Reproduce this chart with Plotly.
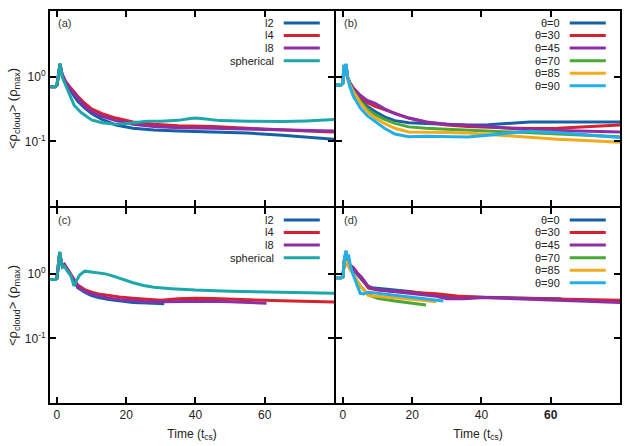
import plotly.graph_objects as go

# ---------------- data ----------------
# Panel (a): shapes
a_l2_t = [-2, -0.5, 0, 0.4, 0.9, 1.5, 2.5, 4, 6, 8, 10, 13, 17, 22, 28, 35, 45, 55, 65, 72, 80]
a_l2_v = [0.70, 0.70, 0.74, 1.1, 1.58, 1.05, 0.8, 0.6, 0.42, 0.33, 0.27, 0.22, 0.18, 0.16, 0.15, 0.145, 0.14, 0.135, 0.125, 0.118, 0.108]
a_l4_t = [-2, -0.5, 0, 0.4, 0.9, 1.5, 2.5, 4, 6, 8, 10, 13, 17, 22, 28, 35, 45, 55, 65, 72, 80]
a_l4_v = [0.70, 0.70, 0.74, 1.1, 1.55, 1.1, 0.85, 0.67, 0.5, 0.39, 0.32, 0.27, 0.23, 0.2, 0.185, 0.175, 0.17, 0.16, 0.15, 0.145, 0.14]
a_l8_t = [-2, -0.5, 0, 0.4, 0.9, 1.5, 2.5, 4, 6, 8, 10, 13, 17, 22, 28, 35, 45, 55, 65, 72, 80]
a_l8_v = [0.70, 0.70, 0.74, 1.1, 1.55, 1.08, 0.83, 0.63, 0.47, 0.35, 0.29, 0.245, 0.21, 0.185, 0.17, 0.163, 0.16, 0.155, 0.15, 0.148, 0.145]
a_sp_t = [-2, -0.5, 0, 0.4, 0.9, 1.5, 2.5, 4, 5, 7, 10, 13, 17, 20, 23, 26, 30, 35, 38, 40, 43, 47, 55, 65, 72, 80]
a_sp_v = [0.70, 0.70, 0.74, 1.1, 1.62, 1.0, 0.75, 0.47, 0.36, 0.28, 0.215, 0.195, 0.185, 0.19, 0.2, 0.205, 0.205, 0.212, 0.225, 0.23, 0.222, 0.21, 0.205, 0.203, 0.208, 0.218]

# Panel (b): angles
b_t = [-2, -0.5, 0, 0.3, 0.6, 0.9, 1.3, 2, 3, 5, 7, 9.3, 12, 15, 19, 24, 30, 36, 42, 48, 54, 62, 70, 80]
b_0_v = [0.75, 0.75, 0.8, 1.5, 1.1, 1.55, 1.0, 0.78, 0.6, 0.45, 0.35, 0.29, 0.24, 0.21, 0.195, 0.19, 0.185, 0.18, 0.182, 0.19, 0.2, 0.2, 0.2, 0.2]
b_30_v = [0.75, 0.75, 0.8, 1.5, 1.1, 1.55, 1.0, 0.8, 0.65, 0.5, 0.4, 0.35, 0.31, 0.27, 0.23, 0.2, 0.18, 0.17, 0.165, 0.16, 0.158, 0.16, 0.168, 0.18]
b_45_v = [0.75, 0.75, 0.8, 1.5, 1.1, 1.55, 1.0, 0.82, 0.67, 0.52, 0.43, 0.39, 0.32, 0.27, 0.23, 0.2, 0.185, 0.178, 0.17, 0.16, 0.152, 0.148, 0.145, 0.14]
b_70_v = [0.75, 0.75, 0.8, 1.5, 1.1, 1.55, 1.0, 0.77, 0.6, 0.42, 0.32, 0.26, 0.22, 0.19, 0.168, 0.16, 0.155, 0.15, 0.145, 0.14, 0.135, 0.13, 0.125, 0.118]
b_85_v = [0.75, 0.75, 0.8, 1.5, 1.1, 1.55, 1.0, 0.75, 0.58, 0.4, 0.29, 0.23, 0.19, 0.16, 0.14, 0.14, 0.137, 0.135, 0.128, 0.12, 0.115, 0.108, 0.103, 0.097]
b_90_v = [0.75, 0.75, 0.8, 1.55, 1.1, 1.6, 1.0, 0.7, 0.5, 0.33, 0.25, 0.205, 0.16, 0.13, 0.118, 0.12, 0.118, 0.117, 0.125, 0.135, 0.144, 0.138, 0.128, 0.115]

# Panel (c): shapes
c_l2_t = [-2, -0.5, 0, 0.4, 0.8, 1.2, 1.6, 2.2, 3, 4, 5, 6, 8, 10, 12, 15, 18, 22, 26, 31]
c_l2_v = [0.82, 0.82, 0.85, 1.5, 2.15, 1.6, 1.3, 1.35, 1.15, 0.98, 0.78, 0.61, 0.52, 0.46, 0.43, 0.4, 0.38, 0.36, 0.355, 0.345]
c_l4_t = [-2, -0.5, 0, 0.4, 0.8, 1.2, 1.6, 2.2, 3, 4, 5, 6, 8, 10, 12, 15, 18, 22, 26, 30, 35, 40, 45, 50, 55, 60, 65, 70, 75, 80]
c_l4_v = [0.82, 0.82, 0.85, 1.5, 2.1, 1.6, 1.3, 1.4, 1.2, 1.0, 0.82, 0.67, 0.57, 0.52, 0.49, 0.46, 0.44, 0.42, 0.4, 0.39, 0.41, 0.42, 0.415, 0.41, 0.4, 0.39, 0.385, 0.375, 0.37, 0.365]
c_l8_t = [-2, -0.5, 0, 0.4, 0.8, 1.2, 1.6, 2.2, 3, 4, 5, 6, 8, 10, 12, 15, 18, 22, 26, 30, 35, 40, 45, 50, 55, 60.5]
c_l8_v = [0.82, 0.82, 0.85, 1.5, 2.1, 1.6, 1.3, 1.38, 1.18, 0.99, 0.8, 0.64, 0.54, 0.49, 0.46, 0.42, 0.4, 0.38, 0.37, 0.37, 0.375, 0.38, 0.375, 0.37, 0.36, 0.35]
c_sp_t = [-2, -0.5, 0, 0.4, 0.8, 1.2, 1.6, 2.2, 3, 4, 4.9, 5.5, 6.5, 8, 10, 12, 14, 16, 19, 22, 25, 28, 33, 40, 50, 60, 70, 80]
c_sp_v = [0.82, 0.82, 0.85, 1.5, 2.2, 1.6, 1.25, 1.3, 1.1, 0.95, 0.65, 0.75, 0.95, 1.1, 1.07, 1.05, 1.0, 0.93, 0.82, 0.73, 0.66, 0.62, 0.59, 0.56, 0.54, 0.53, 0.515, 0.5]

# Panel (d): angles
d_0_t = [-2, -0.5, 0, 0.4, 0.9, 1.3, 2, 3, 4, 5.5, 7, 8.4, 12, 17, 20, 25, 30, 36, 42, 50, 57, 63]
d_0_v = [0.87, 0.87, 0.9, 1.6, 2.2, 1.5, 1.3, 1.2, 1.0, 0.8, 0.65, 0.61, 0.58, 0.555, 0.53, 0.48, 0.45, 0.44, 0.43, 0.42, 0.415, 0.41]
d_30_t = [-2, -0.5, 0, 0.4, 0.9, 1.3, 2, 3, 4, 5.5, 7.4, 10, 14, 17, 22, 27, 33, 41, 50, 61, 70, 80]
d_30_v = [0.87, 0.87, 0.9, 1.6, 2.1, 1.5, 1.35, 1.25, 1.05, 0.85, 0.6, 0.56, 0.54, 0.53, 0.51, 0.49, 0.455, 0.43, 0.42, 0.41, 0.4, 0.39]
d_45_t = [-2, -0.5, 0, 0.4, 0.9, 1.3, 2, 2.6, 4, 5.5, 7.4, 10, 14, 17, 22, 27, 30, 35, 41, 50, 61, 70, 80]
d_45_v = [0.87, 0.87, 0.9, 1.6, 2.1, 1.5, 1.35, 1.3, 1.05, 0.87, 0.63, 0.57, 0.54, 0.52, 0.49, 0.45, 0.41, 0.41, 0.43, 0.41, 0.39, 0.375, 0.36]
d_70_t = [-2, -0.5, 0, 0.4, 0.9, 1.3, 2, 3, 3.6, 5, 7.4, 10, 15, 20, 24]
d_70_v = [0.87, 0.87, 0.9, 1.6, 2.1, 1.4, 1.2, 1.0, 0.85, 0.65, 0.47, 0.42, 0.38, 0.35, 0.33]
d_85_t = [-2, -0.5, 0, 0.4, 0.9, 1.3, 2, 3, 4, 5.5, 7.4, 10, 17, 22, 27]
d_85_v = [0.87, 0.87, 0.9, 1.6, 2.1, 1.4, 1.2, 1.0, 0.8, 0.6, 0.46, 0.45, 0.42, 0.395, 0.37]
d_90_t = [-2, -0.5, 0, 0.4, 0.9, 1.2, 1.6, 2.2, 3, 4, 5, 6, 7.4, 10, 17, 22, 27, 29]
d_90_v = [0.87, 0.87, 0.9, 1.7, 2.3, 1.6, 2.0, 1.3, 0.95, 0.68, 0.5, 0.49, 0.52, 0.5, 0.45, 0.42, 0.39, 0.38]

shape_names = ["l2", "l4", "l8", "spherical"]
angle_names = ["θ=0", "θ=30", "θ=45", "θ=70", "θ=85", "θ=90"]
shape_colors = ["#1661a6", "#d42230", "#8e2ea6", "#1ca7ab"]
angle_colors = ["#1661a6", "#d42230", "#8e2ea6", "#4aa836", "#f3aa1f", "#22aee8"]
panel_labels = ["(a)", "(b)", "(c)", "(d)"]
x_ticks = [0, 20, 40, 60]
x_ticktext_left = ["0", "20", "40", "60"]
x_ticktext_right = ["0", "20", "40", "<b>60</b>"]
y_ticks = [0.1, 1]
y_ticktext = ["10<sup>-1</sup>", "10<sup>0</sup>"]

panels = [
    (1, [(a_l2_t, a_l2_v), (a_l4_t, a_l4_v), (a_l8_t, a_l8_v), (a_sp_t, a_sp_v)], shape_names, shape_colors),
    (2, [(b_t, b_0_v), (b_t, b_30_v), (b_t, b_45_v), (b_t, b_70_v), (b_t, b_85_v), (b_t, b_90_v)], angle_names, angle_colors),
    (3, [(c_l2_t, c_l2_v), (c_l4_t, c_l4_v), (c_l8_t, c_l8_v), (c_sp_t, c_sp_v)], shape_names, shape_colors),
    (4, [(d_0_t, d_0_v), (d_30_t, d_30_v), (d_45_t, d_45_v), (d_70_t, d_70_v), (d_85_t, d_85_v), (d_90_t, d_90_v)], angle_names, angle_colors),
]

# ---------------- layout ----------------
W, H = 625, 446
FONT = "Liberation Sans, Arial, sans-serif"
xl = [50 / W, 334 / W]
xr = [336 / W, 620 / W]
yt = [1 - 206 / H, 1 - 11 / H]
yb = [1 - 403 / H, 1 - 208 / H]
domains = {1: (xl, yt), 2: (xr, yt), 3: (xl, yb), 4: (xr, yb)}

fig = go.Figure()
layout = dict(
    width=W, height=H, margin=dict(l=0, r=0, t=0, b=0),
    paper_bgcolor="white", plot_bgcolor="white", showlegend=False,
    font=dict(family=FONT, size=11, color="#222"),
)
shapes, annotations = [], []

for idx, series, names, colors in panels:
    xa = "x" if idx == 1 else f"x{idx}"
    ya = "y" if idx == 1 else f"y{idx}"
    for (t, v), name, col in zip(series, names, colors):
        fig.add_trace(go.Scatter(x=t, y=v, mode="lines", name=name,
                                 line=dict(color=col, width=3), xaxis=xa, yaxis=ya))
    xd, yd = domains[idx]
    bottom = idx in (3, 4)
    left = idx in (1, 3)
    layout["xaxis" if idx == 1 else f"xaxis{idx}"] = dict(
        domain=xd, anchor=ya, range=[-2, 80], tickmode="array", tickvals=x_ticks,
        ticktext=x_ticktext_left if left else x_ticktext_right,
        ticks="inside", ticklen=6, tickwidth=1.5, tickcolor="black",
        showline=True, linewidth=2, linecolor="black", mirror="allticks",
        showgrid=False, zeroline=False, showticklabels=bottom,
        tickfont=dict(size=12, color="#222"),
        title=dict(text="Time (t<sub>cs</sub>)" if bottom else "", font=dict(size=12, color="#222"), standoff=8),
    )
    layout["yaxis" if idx == 1 else f"yaxis{idx}"] = dict(
        domain=yd, anchor=xa, type="log", range=[-2, 1.02], tickmode="array",
        tickvals=y_ticks, ticktext=y_ticktext,
        ticks="inside", ticklen=6, tickwidth=1.5, tickcolor="black",
        showline=True, linewidth=2, linecolor="black", mirror="allticks",
        showgrid=False, zeroline=False, showticklabels=left,
        tickfont=dict(size=12, color="#222"),
        title=dict(text="<ρ<sub>cloud</sub>> (ρ<sub>max</sub>)" if left else "",
                   font=dict(size=13, color="#222"), standoff=4),
    )
    xref = f"{xa} domain"
    yref = f"{ya} domain"
    annotations.append(dict(text=panel_labels[idx - 1], xref=xref, yref=yref, x=0.02, y=0.94,
                            xanchor="left", yanchor="middle", showarrow=False,
                            font=dict(size=11, color="#333")))
    # gnuplot-style key (text left of sample)
    for k, (name, col) in enumerate(zip(names, colors)):
        yy = 0.939 - k * 0.0645
        annotations.append(dict(text=name, xref=xref, yref=yref, x=0.797, y=yy,
                                xanchor="right", yanchor="middle", showarrow=False,
                                font=dict(size=11, color="#222")))
        shapes.append(dict(type="line", xref=xref, yref=yref, x0=0.823, x1=0.95, y0=yy, y1=yy,
                           line=dict(color=col, width=3)))

layout["shapes"] = shapes
layout["annotations"] = annotations
fig.update_layout(**layout)
fig.write_html("out.html")
